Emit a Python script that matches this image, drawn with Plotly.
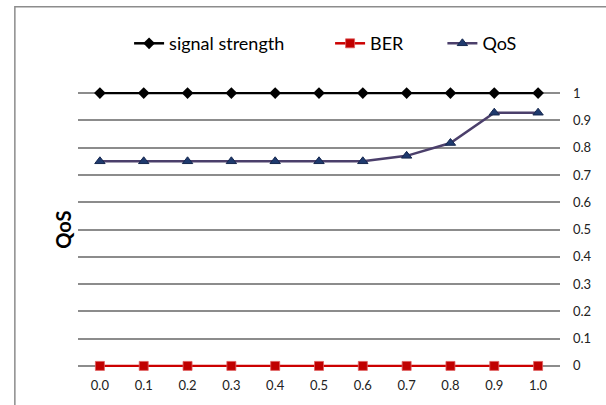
import plotly.graph_objects as go

categories = ["0.0", "0.1", "0.2", "0.3", "0.4", "0.5", "0.6", "0.7", "0.8", "0.9", "1.0"]
signal_strength = [1, 1, 1, 1, 1, 1, 1, 1, 1, 1, 1]
ber = [0, 0, 0, 0, 0, 0, 0, 0, 0, 0, 0]
qos = [0.75, 0.75, 0.75, 0.75, 0.75, 0.75, 0.75, 0.77, 0.817, 0.928, 0.928]
y_ticks = [0, 0.1, 0.2, 0.3, 0.4, 0.5, 0.6, 0.7, 0.8, 0.9, 1]
y_ticktext = ["0", "0.1", "0.2", "0.3", "0.4", "0.5", "0.6", "0.7", "0.8", "0.9", "1"]

FONT = "Lato, Carlito, Calibri, sans-serif"

fig = go.Figure()
fig.add_trace(go.Scatter(
    x=categories, y=signal_strength, name="signal strength", mode="lines+markers",
    line=dict(color="#000000", width=2.5),
    marker=dict(symbol="diamond", size=9, color="#000000"),
    cliponaxis=False, legend="legend",
))
fig.add_trace(go.Scatter(
    x=categories, y=ber, name="BER", mode="lines+markers",
    line=dict(color="#CC0000", width=2.5),
    marker=dict(symbol="square", size=9, color="#C00000", line=dict(color="#E06060", width=0.8)),
    cliponaxis=False, legend="legend2",
))
fig.add_trace(go.Scatter(
    x=categories, y=qos, name="QoS", mode="lines+markers",
    line=dict(color="#4B3F6B", width=2.5),
    marker=dict(symbol="triangle-up", size=9, color="#1F3A6E", line=dict(color="#16284F", width=1)),
    cliponaxis=False, legend="legend3",
))

legend_common = dict(
    orientation="h", xanchor="left", y=1.176, yanchor="middle",
    font=dict(family=FONT, size=18, color="#000000"),
    bgcolor="rgba(0,0,0,0)",
)

fig.update_layout(
    width=606, height=405,
    margin=dict(l=78, r=46, t=92, b=36, pad=0),
    paper_bgcolor="white", plot_bgcolor="white",
    font=dict(family=FONT, color="#000000"),
    showlegend=True,
    legend=dict(x=0.106, **legend_common),
    legend2=dict(x=0.523, **legend_common),
    legend3=dict(x=0.756, **legend_common),
    xaxis=dict(
        type="category", range=[-0.5, 10.5], showgrid=False, zeroline=False, showline=False,
        ticks="", tickfont=dict(family=FONT, size=13, color="#222222"),
        ticklabelstandoff=9,
    ),
    yaxis=dict(
        side="right", range=[-0.004, 1.004], tickvals=y_ticks, ticktext=y_ticktext,
        showgrid=True, gridcolor="#8C8C8C", gridwidth=1.6, zeroline=False,
        showline=False, ticks="", tickfont=dict(family=FONT, size=13, color="#222222"),
        ticklabelstandoff=12,
    ),
    annotations=[dict(
        text="<b>QoS</b>", xref="paper", yref="paper", x=-0.0326, y=0.5,
        xanchor="center", yanchor="middle", textangle=-90, showarrow=False,
        font=dict(family=FONT, size=20, color="#000000"),
    )],
    shapes=[dict(
        type="rect", xref="paper", yref="paper", x0=-0.131, x1=1.3, y0=-0.3, y1=1.31,
        line=dict(color="#8C8C8C", width=1.5), fillcolor="rgba(0,0,0,0)", layer="below",
    )],
)

fig.write_html("out.html")
